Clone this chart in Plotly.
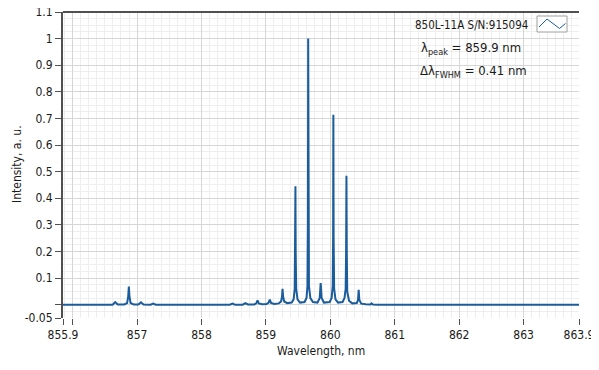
import plotly.graph_objects as go

# ---- data ----
wavelength_nm = [
    855.85, 856.62, 856.66, 856.70, 856.80, 856.845, 856.862, 856.872, 856.882, 856.90,
    856.95, 857.02, 857.06, 857.10, 857.21, 857.25, 857.29, 858.44, 858.48, 858.52,
    858.64, 858.68, 858.72, 858.82, 858.85, 858.87, 858.89, 858.94, 859.01, 859.04,
    859.06, 859.08, 859.13, 859.20, 859.235, 859.25, 859.258, 859.267, 859.285, 859.33,
    859.40, 859.43, 859.447, 859.454, 859.458, 859.462, 859.47, 859.49, 859.53, 859.60,
    859.63, 859.645, 859.652, 859.656, 859.660, 859.668, 859.69, 859.73, 859.80, 859.835,
    859.85, 859.865, 859.90, 859.99, 860.02, 860.037, 860.043, 860.047, 860.051, 860.059,
    860.08, 860.12, 860.19, 860.22, 860.238, 860.245, 860.250, 860.255, 860.262, 860.29,
    860.34, 860.41, 860.43, 860.44, 860.45, 860.48, 860.55, 860.62, 860.64, 860.66,
    860.75, 863.86,
]
intensity_au = [
    0.0, 0.0, 0.010, 0.001, 0.001, 0.006, 0.03, 0.068, 0.03, 0.006,
    0.001, 0.0005, 0.009, 0.001, 0.0, 0.004, 0.0, 0.0, 0.004, 0.0,
    0.0, 0.006, 0.001, 0.001, 0.005, 0.016, 0.005, 0.002, 0.003, 0.007,
    0.019, 0.007, 0.003, 0.005, 0.012, 0.03, 0.06, 0.03, 0.012, 0.006,
    0.008, 0.02, 0.06, 0.2, 0.445, 0.2, 0.06, 0.02, 0.008, 0.01,
    0.025, 0.07, 0.3, 1.0, 0.3, 0.07, 0.025, 0.01, 0.008, 0.025,
    0.081, 0.025, 0.008, 0.01, 0.025, 0.07, 0.25, 0.714, 0.25, 0.06,
    0.02, 0.008, 0.01, 0.025, 0.06, 0.2, 0.485, 0.2, 0.05, 0.015,
    0.005, 0.006, 0.018, 0.056, 0.018, 0.004, 0.002, 0.001, 0.005, 0.001,
    0.0, 0.0,
]

x_tickvals = [855.85, 856, 857, 858, 859, 860, 861, 862, 863, 863.86]
x_ticktext = ["855.9", "", "857", "858", "859", "860", "861", "862", "863", "863.9"]
y_tickvals = [-0.05, 0, 0.1, 0.2, 0.3, 0.4, 0.5, 0.6, 0.7, 0.8, 0.9, 1.0, 1.1]
y_ticktext = ["-0.05", "", "0.1", "0.2", "0.3", "0.4", "0.5", "0.6", "0.7", "0.8", "0.9", "1", "1.1"]

series_name = "850L-11A S/N:915094"
peak_text = "λ<sub>peak</sub> = 859.9 nm"
fwhm_text = "Δλ<sub>FWHM</sub> = 0.41 nm"

FONT = "DejaVu Sans Condensed, Liberation Sans Narrow, Liberation Sans, sans-serif"
LINE = "#1b5c9c"
MAJOR = "#d6d6d6"
MINOR = "#eeeeee"
AXIS = "#505050"

fig = go.Figure()
fig.add_trace(go.Scatter(
    x=wavelength_nm, y=intensity_au, mode="lines", name=series_name,
    line=dict(color=LINE, width=2), showlegend=False,
))

# the page body has an 8px margin, so the figure is laid out 8px smaller
OFF = 8
W, H = 599 - OFF, 370 - OFF
PL, PR, PT, PB = 63, 579, 12, 318          # plot area in window pixels
L, R, T, B = PL - OFF, W - (PR - OFF), PT - OFF, H - (PB - OFF)
pw, ph = W - L - R, H - T - B


def px(x):
    return (x - PL) / pw


def py(y):
    return (PB - y) / ph


fig.update_layout(
    width=W, height=H,
    margin=dict(l=L, r=R, t=T, b=B, autoexpand=False),
    paper_bgcolor="white", plot_bgcolor="white",
    font=dict(family=FONT, size=12, color="#1a1a1a"),
    xaxis=dict(
        range=[855.85, 863.86], tickmode="array", tickvals=x_tickvals, ticktext=x_ticktext,
        automargin=False, ticklabeloverflow="allow",
        showgrid=True, gridcolor=MAJOR, gridwidth=1, zeroline=False,
        showline=False, ticks="outside", ticklen=6, tickwidth=1, tickcolor=AXIS,
        minor=dict(tickmode="linear", tick0=856, dtick=0.125, showgrid=True,
                   gridcolor=MINOR, gridwidth=1, ticks=""),
        tickfont=dict(family=FONT, size=12, color="#1a1a1a"),
    ),
    yaxis=dict(
        range=[-0.05, 1.1], tickmode="array", tickvals=y_tickvals, ticktext=y_ticktext,
        automargin=False, ticklabeloverflow="allow",
        showgrid=True, gridcolor=MAJOR, gridwidth=1, zeroline=False,
        showline=True, linecolor=AXIS, linewidth=2, ticks="outside", ticklen=6,
        tickwidth=1, tickcolor=AXIS,
        minor=dict(tickmode="linear", tick0=0, dtick=0.025, showgrid=True,
                   gridcolor=MINOR, gridwidth=1, ticks=""),
        tickfont=dict(family=FONT, size=12, color="#1a1a1a"),
    ),
    shapes=[
        dict(type="line", xref="paper", yref="paper", x0=0, x1=1, y0=1, y1=1,
             line=dict(color=AXIS, width=2)),
        dict(type="rect", xref="paper", yref="paper",
             x0=px(537), x1=px(567), y0=py(32), y1=py(16),
             line=dict(color="#a0a0a0", width=1), fillcolor="white"),
        dict(type="path", xref="paper", yref="paper",
             path=f"M {px(539)} {py(27)} L {px(547)} {py(19)} L {px(559.5)} {py(28.5)} L {px(565.5)} {py(23.5)}",
             line=dict(color=LINE, width=1)),
    ],
    annotations=[
        dict(text=series_name, xref="paper", yref="paper", x=px(471.5), y=py(25),
             showarrow=False, xanchor="center", yanchor="middle",
             font=dict(family=FONT, size=11.5, color="#1a1a1a")),
        dict(text=peak_text, xref="paper", yref="paper", x=px(471), y=py(48),
             showarrow=False, xanchor="center", yanchor="middle",
             font=dict(family=FONT, size=13, color="#1a1a1a")),
        dict(text=fwhm_text, xref="paper", yref="paper", x=px(473.5), y=py(71.5),
             showarrow=False, xanchor="center", yanchor="middle",
             font=dict(family=FONT, size=13, color="#1a1a1a")),
        dict(text="Wavelength, nm", xref="paper", yref="paper", x=0.5, y=py(351),
             showarrow=False, xanchor="center", yanchor="middle",
             font=dict(family=FONT, size=12, color="#1a1a1a")),
        dict(text="Intensity, a. u.", xref="paper", yref="paper", x=px(17), y=py(164),
             showarrow=False, xanchor="center", yanchor="middle", textangle=-90,
             font=dict(family=FONT, size=12, color="#1a1a1a")),
    ],
)

fig.write_html("out.html")
